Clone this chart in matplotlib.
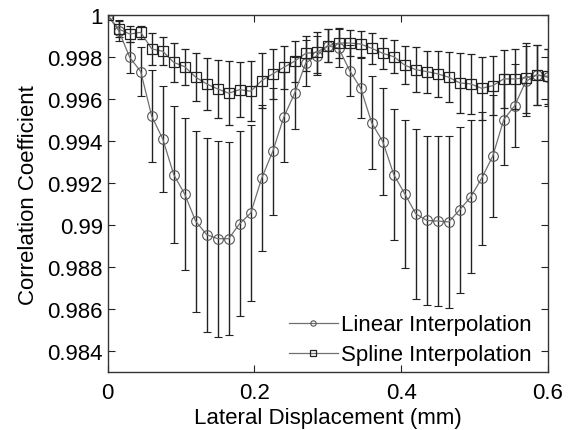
import numpy as np
import matplotlib.pyplot as plt
from matplotlib.ticker import FuncFormatter

plt.rcParams['font.family'] = ['Liberation Sans', 'DejaVu Sans']

# lateral displacement (mm)
x = np.arange(41) * 0.015

linear_mean = [1.0, 0.99927, 0.9980, 0.99732, 0.99519, 0.99411, 0.99241, 0.99147,
               0.99018, 0.98954, 0.98935, 0.98935, 0.99007, 0.99057, 0.99224, 0.99351,
               0.99514, 0.9963, 0.99773, 0.99808, 0.99855, 0.99843, 0.99736, 0.99652,
               0.99487, 0.99398, 0.99241, 0.99149, 0.99054, 0.99022, 0.99019, 0.99015,
               0.99073, 0.99134, 0.99224, 0.99329, 0.99503, 0.9957, 0.99685, 0.99716,
               0.99705]
linear_err = [0.0, 0.0005, 0.00073, 0.00117, 0.00219, 0.00254, 0.00328, 0.00363,
              0.00431, 0.00463, 0.00468, 0.0046, 0.00441, 0.00419, 0.00348, 0.00302,
              0.00214, 0.00171, 0.00108, 0.00092, 0.00078, 0.0009, 0.00122, 0.00143,
              0.00222, 0.00254, 0.00313, 0.00354, 0.00405, 0.00401, 0.00405, 0.0041,
              0.00395, 0.00365, 0.00317, 0.0029, 0.00216, 0.00198, 0.00167, 0.00143,
              0.00135]

spline_mean = [1.0, 0.99935, 0.99911, 0.99919, 0.9984, 0.99829, 0.99776, 0.99755,
               0.99705, 0.99673, 0.99649, 0.99629, 0.99646, 0.99638, 0.99689, 0.99721,
               0.99752, 0.99782, 0.99819, 0.99824, 0.99855, 0.99868, 0.99868, 0.99863,
               0.99843, 0.99819, 0.99803, 0.99763, 0.99741, 0.99732, 0.99721, 0.99705,
               0.99678, 0.99673, 0.99652, 0.99665, 0.99697, 0.99697, 0.99702, 0.99716,
               0.99709]
spline_err = [0.0, 0.0004, 0.00037, 0.0003, 0.00077, 0.00066, 0.00093, 0.00086,
              0.00115, 0.00123, 0.00139, 0.00153, 0.00133, 0.00143, 0.00132, 0.00121,
              0.00103, 0.00098, 0.00083, 0.00097, 0.00078, 0.0007, 0.00064, 0.00062,
              0.00075, 0.00075, 0.0008, 0.0009, 0.00106, 0.001, 0.0011, 0.0012,
              0.00143, 0.00143, 0.0015, 0.0014, 0.0014, 0.00143, 0.00168, 0.00143,
              0.00133]

fig = plt.figure(figsize=(5.76, 4.31), dpi=100)
ax = fig.add_axes([0.187, 0.135, 0.764, 0.827])

ax.errorbar(x, linear_mean, yerr=linear_err, fmt='-o', color='#707070', lw=0.9,
            ms=7, mfc='none', mec='#555555', mew=0.8,
            ecolor='#222222', elinewidth=1.0, capsize=3, capthick=1.0,
            label='Linear Interpolation')
ax.errorbar(x, spline_mean, yerr=spline_err, fmt='-s', color='#707070', lw=0.9,
            ms=7, mfc='none', mec='#222222', mew=0.9,
            ecolor='#222222', elinewidth=1.0, capsize=3, capthick=1.0,
            label='Spline Interpolation')

ax.set_xlim(0, 0.6)
ax.set_ylim(0.983, 1.0)
ax.set_xticks([0, 0.2, 0.4, 0.6])
ax.set_yticks(np.arange(0.984, 1.0001, 0.002))
fmt = FuncFormatter(lambda v, p: f'{round(v, 4):g}')
ax.xaxis.set_major_formatter(fmt)
ax.yaxis.set_major_formatter(fmt)
ax.tick_params(direction='in', top=True, right=True, length=5, labelsize=16,
               color='#222222')
ax.tick_params(axis='x', pad=7)
for s in ax.spines.values():
    s.set_color('#333333')
    s.set_linewidth(1.0)

ax.set_xlabel('Lateral Displacement (mm)', fontsize=16, labelpad=3)
ax.set_ylabel('Correlation Coefficient', fontsize=16, labelpad=6)

handles, labels = ax.get_legend_handles_labels()
handles = [h[0] for h in handles]
ax.legend(handles, labels, loc='lower right', bbox_to_anchor=(0.986, -0.01),
          frameon=False, fontsize=16, markerscale=0.55, handlelength=2.2,
          handletextpad=0.15, labelspacing=0.4, borderaxespad=0.05)

fig.savefig('out.png', dpi=100)
